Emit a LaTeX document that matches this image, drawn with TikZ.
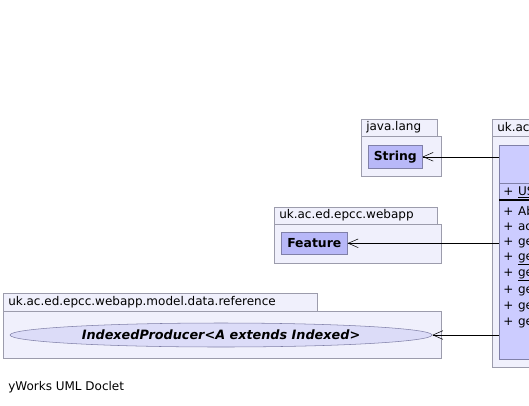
\documentclass[tikz,border=0pt]{standalone}
\usepackage{fontspec}
\setmainfont{DejaVu Sans}
\usetikzlibrary{shapes.geometric,arrows.meta}
\definecolor{pkgfill}{HTML}{F0F0FC}
\definecolor{pkgline}{HTML}{9C9CAC}
\definecolor{clsfill}{HTML}{B8B8F8}
\definecolor{clsline}{HTML}{8080A8}
\definecolor{bigfill}{HTML}{CCCCFF}
\definecolor{ifcfill}{HTML}{DCDCF8}
\newcommand{\vis}{+\hspace{3.6pt}}
\tikzset{
  pkg/.style={draw=pkgline,fill=pkgfill},
  pkglabel/.style={anchor=west,inner sep=0pt,font=\fontsize{9}{11}\selectfont},
  cls/.style={draw=clsline,fill=clsfill,anchor=north west,inner sep=0pt,font=\fontsize{9.3}{11}\selectfont\bfseries},
  member/.style={anchor=west,inner sep=0pt,font=\fontsize{9}{11}\selectfont},
  dep/.style={{Straight Barb[length=7.5pt,width=6.5pt]}-,black},
}
\begin{document}
\begin{tikzpicture}[x=0.75pt,y=-0.75pt]
        \useasboundingbox[fill=white] (0,0) rectangle (529,405);
        %% packages
        \draw[pkg] (361,119) rectangle (437,136);
        \draw[pkg] (361,136) rectangle (441,176);
        \node[pkglabel] (javalang) at (366,127.5) {java.lang};
        \draw[pkg] (274,207) rectangle (437,224);
        \draw[pkg] (274,224) rectangle (441,263);
        \node[pkglabel] (webapp) at (279,215.5) {uk.ac.ed.epcc.webapp};
        \draw[pkg] (3,293) rectangle (317,311);
        \draw[pkg] (3,311) rectangle (441,358);
        \node[pkglabel] (reference) at (8,302) {uk.ac.ed.epcc.webapp.model.data.reference};
        \draw[pkg] (492,119) rectangle (600,136);
        \draw[pkg] (492,136) rectangle (600,367);
        \node[pkglabel] (ukac) at (497,127.5) {uk.ac};
        %% classes
        \node[cls,minimum width=40.5pt,minimum height=17.25pt] (str) at (368,145) {String};
        \node[cls,minimum width=49.5pt,minimum height=16.5pt] (feat) at (281,232) {Feature};
        \node[draw=clsline,fill=ifcfill,ellipse,inner sep=0pt,minimum width=316.5pt,minimum height=18pt,
              font=\fontsize{9.6}{11}\selectfont\bfseries\itshape] (prod) at (221,335) {IndexedProducer<A extends Indexed>};
        %% the cut class
        \node[draw=clsline,fill=bigfill,anchor=north west,inner sep=0pt,minimum width=75pt,minimum height=160.5pt] (cls) at (499,145) {};
        \draw[clsline] (499,183) -- (600,183);
        \draw[black,line width=1.5pt] (499,199.5) -- (600,199.5);
        \node[member] (m0) at (503,192) {\vis\underline{US}};
        \node[member] (m1) at (503,211) {\vis Ab};
        \node[member] (m2) at (503,227) {\vis ac};
        \node[member] (m3) at (503,243) {\vis ge};
        \node[member] (m4) at (503,259) {\vis\underline{ge}};
        \node[member] (m5) at (503,275) {\vis\underline{ge}};
        \node[member] (m6) at (503,291) {\vis ge};
        \node[member] (m7) at (503,307) {\vis ge};
        \node[member] (m8) at (503,323) {\vis ge};
        %% dependencies
        \draw[dep] (str.east) -- (cls.west |- str.east);
        \draw[dep] (feat.east) -- (cls.west |- feat.east);
        \draw[dep] (prod.east) -- (cls.west |- prod.east);
        %% footer
        \node[member] (doclet) at (8,387) {yWorks UML Doclet};
    \end{tikzpicture}
\end{document}
